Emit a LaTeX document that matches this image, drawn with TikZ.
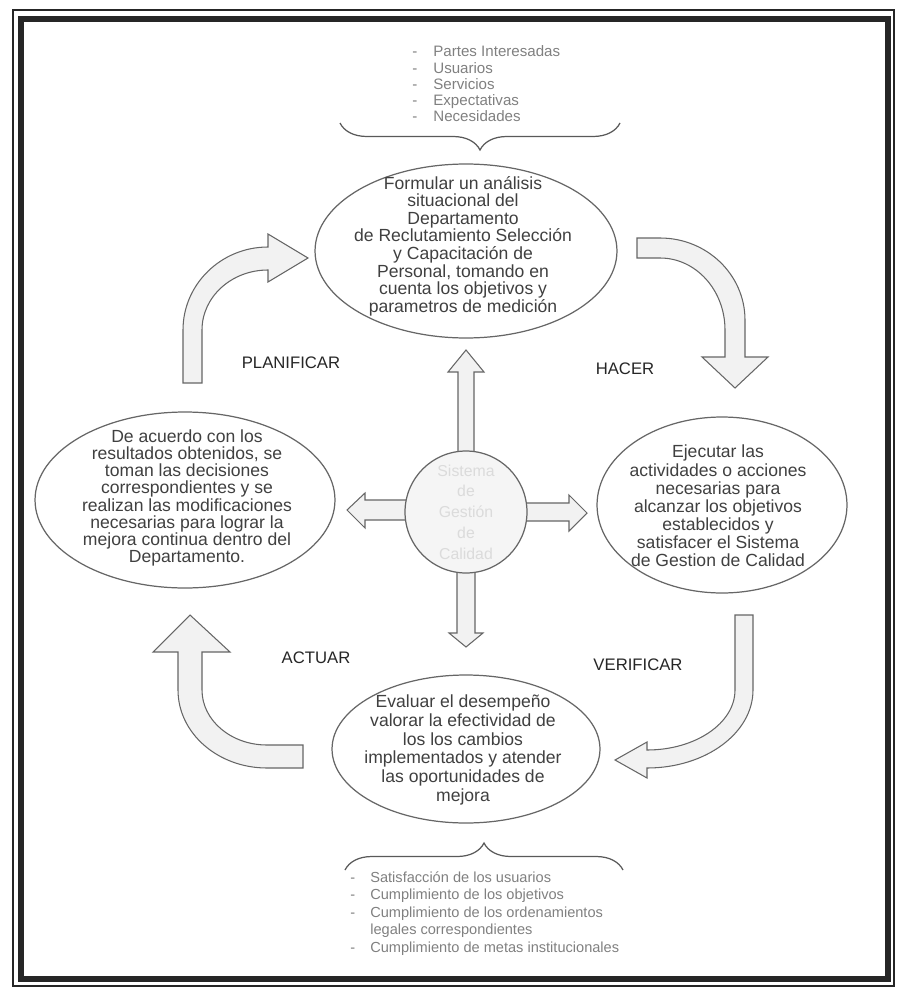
\documentclass[tikz,border=0pt]{standalone}
\usepackage{fontspec}
\setmainfont{Liberation Sans}
\usetikzlibrary{shapes.geometric,decorations.pathreplacing,backgrounds}
\tikzset{
  fase/.style={ellipse,draw=black!60,line width=0.7pt,fill=white,inner sep=0pt},
  texto/.style={align=center,text=black!75,font=\fontsize{10}{10}\selectfont,inner sep=0pt},
  etapa/.style={text=black!85,font=\fontsize{9.5}{11}\selectfont,inner sep=0pt},
  lista/.style={text=black!50,inner sep=0pt},
  flecha/.style={draw=black!60,fill=gray!10,line width=0.6pt,line join=miter},
  llave/.style={draw=black!65,line width=0.7pt,decorate,decoration={brace,amplitude=0.54cm}},
}
\begin{document}
\begin{tikzpicture}[x=0.02cm,y=-0.02cm]
\useasboundingbox (0,0) rectangle (896,990);
% marco
\draw[black!85,line width=0.6pt] (13,10) rectangle (894,986);
\draw[black!85,line width=3.2pt] (21,19) rectangle (888,979);
% elipses
\node[fase,minimum width=6.04cm,minimum height=3.48cm] (plan) at (466,251) {};
\node[fase,minimum width=5cm,minimum height=3.52cm] (hacer) at (722,505) {};
\node[fase,minimum width=5.36cm,minimum height=2.96cm] (verif) at (466,749) {};
\node[fase,minimum width=6cm,minimum height=3.52cm] (actuar) at (185,500) {};
\node[circle,draw=black!60,line width=0.7pt,fill=gray!8,minimum size=2.44cm] (centro) at (466,512) {};
\node[texto] (planT) at (463,246) {Formular un análisis\\situacional del\\Departamento\\de Reclutamiento Selección\\y Capacitación de\\Personal, tomando en\\cuenta los objetivos y\\parametros de medición};
\node[texto,font=\fontsize{10}{10.3}\selectfont] (hacerT) at (718,506) {Ejecutar las\\actividades o acciones\\necesarias para\\alcanzar los objetivos\\establecidos y\\satisfacer el Sistema\\de Gestion de Calidad};
\node[texto,font=\fontsize{10}{10.6}\selectfont] (verifT) at (463,750) {Evaluar el desempeño\\valorar la efectividad de\\los los cambios\\implementados y atender\\las oportunidades de\\mejora};
\node[texto,font=\fontsize{10}{9.8}\selectfont] (actuarT) at (187,498) {De acuerdo con los\\resultados obtenidos, se\\toman las decisiones\\correspondientes y se\\realizan las modificaciones\\necesarias para lograr la\\mejora continua dentro del\\Departamento.};
\node[texto,text=black!14,font=\fontsize{9}{11.8}\selectfont] (centroT) at (centro) {Sistema\\de\\Gestión\\de\\Calidad};
% etapas
\node[etapa] (lplan) at (291,363) {PLANIFICAR};
\node[etapa] (lhacer) at (625,369) {HACER};
\node[etapa] (lactuar) at (316,658) {ACTUAR};
\node[etapa] (lverif) at (638,665) {VERIFICAR};
% listas
\node[lista,anchor=base west,font=\fontsize{8.6}{9.2}\selectfont] (entradas) at (412,57)
  {\begin{tabular}[t]{@{}p{0.42cm}@{}l@{}}
   - & Partes Interesadas\\
   - & Usuarios\\
   - & Servicios\\
   - & Expectativas\\
   - & Necesidades
   \end{tabular}};
\node[lista,anchor=base west,font=\fontsize{8.3}{10}\selectfont] (salidas) at (350,882)
  {\begin{tabular}[t]{@{}p{0.4cm}@{}l@{}}
   - & Satisfacción de los usuarios\\
   - & Cumplimiento de los objetivos\\
   - & Cumplimiento de los ordenamientos\\
     & legales correspondientes\\
   - & Cumplimiento de metas institucionales
   \end{tabular}};
\draw[llave] (620,123) -- (340,123);
\draw[llave] (345,870) -- (623,870);
% flechas del ciclo
\draw[flecha] (183,383) -- (183,330) .. controls (183,284.2) and (221.1,247) .. (268,247)
  -- (268,234) -- (308,258) -- (268,282) -- (268,270)
  .. controls (231.5,270) and (202,296.9) .. (202,330) -- (202,383) -- cycle;
\draw[flecha] (637,238) -- (660,238) .. controls (706.9,238) and (745,274.7) .. (745,320)
  -- (745,357) -- (768,357) -- (735,388) -- (702,357) -- (725,357) -- (725,330)
  .. controls (725,290.2) and (695.9,258) .. (660,258) -- (637,258) -- cycle;
\draw[flecha] (735,615) -- (753,615) -- (753,690) .. controls (753,733.1) and (705.5,768) .. (647,768)
  -- (647,778) -- (615,760) -- (647,742) -- (647,750)
  .. controls (695.6,750) and (735,723.1) .. (735,690) -- cycle;
\draw[flecha] (303,768) -- (267,768) .. controls (217.8,768) and (178,733.1) .. (178,690)
  -- (178,652) -- (153,652) -- (190,615) -- (230,652) -- (202,652) -- (202,690)
  .. controls (202,720.4) and (231.1,745) .. (267,745) -- (303,745) -- cycle;
% flechas del centro
\begin{pgfonlayer}{background}
\draw[flecha] (458,480) -- (458,372) -- (448,372) -- (466,350) -- (484,372) -- (474,372) -- (474,480) -- cycle;
\draw[flecha] (430,500) -- (365,500) -- (365,493) -- (347,510) -- (365,528) -- (365,520) -- (430,520) -- cycle;
\draw[flecha] (500,503) -- (569,503) -- (569,495) -- (587,513) -- (569,531) -- (569,521) -- (500,521) -- cycle;
\draw[flecha] (457,545) -- (457,633) -- (449,633) -- (466,647) -- (483,633) -- (475,633) -- (475,545) -- cycle;
\end{pgfonlayer}
\end{tikzpicture}
\end{document}
